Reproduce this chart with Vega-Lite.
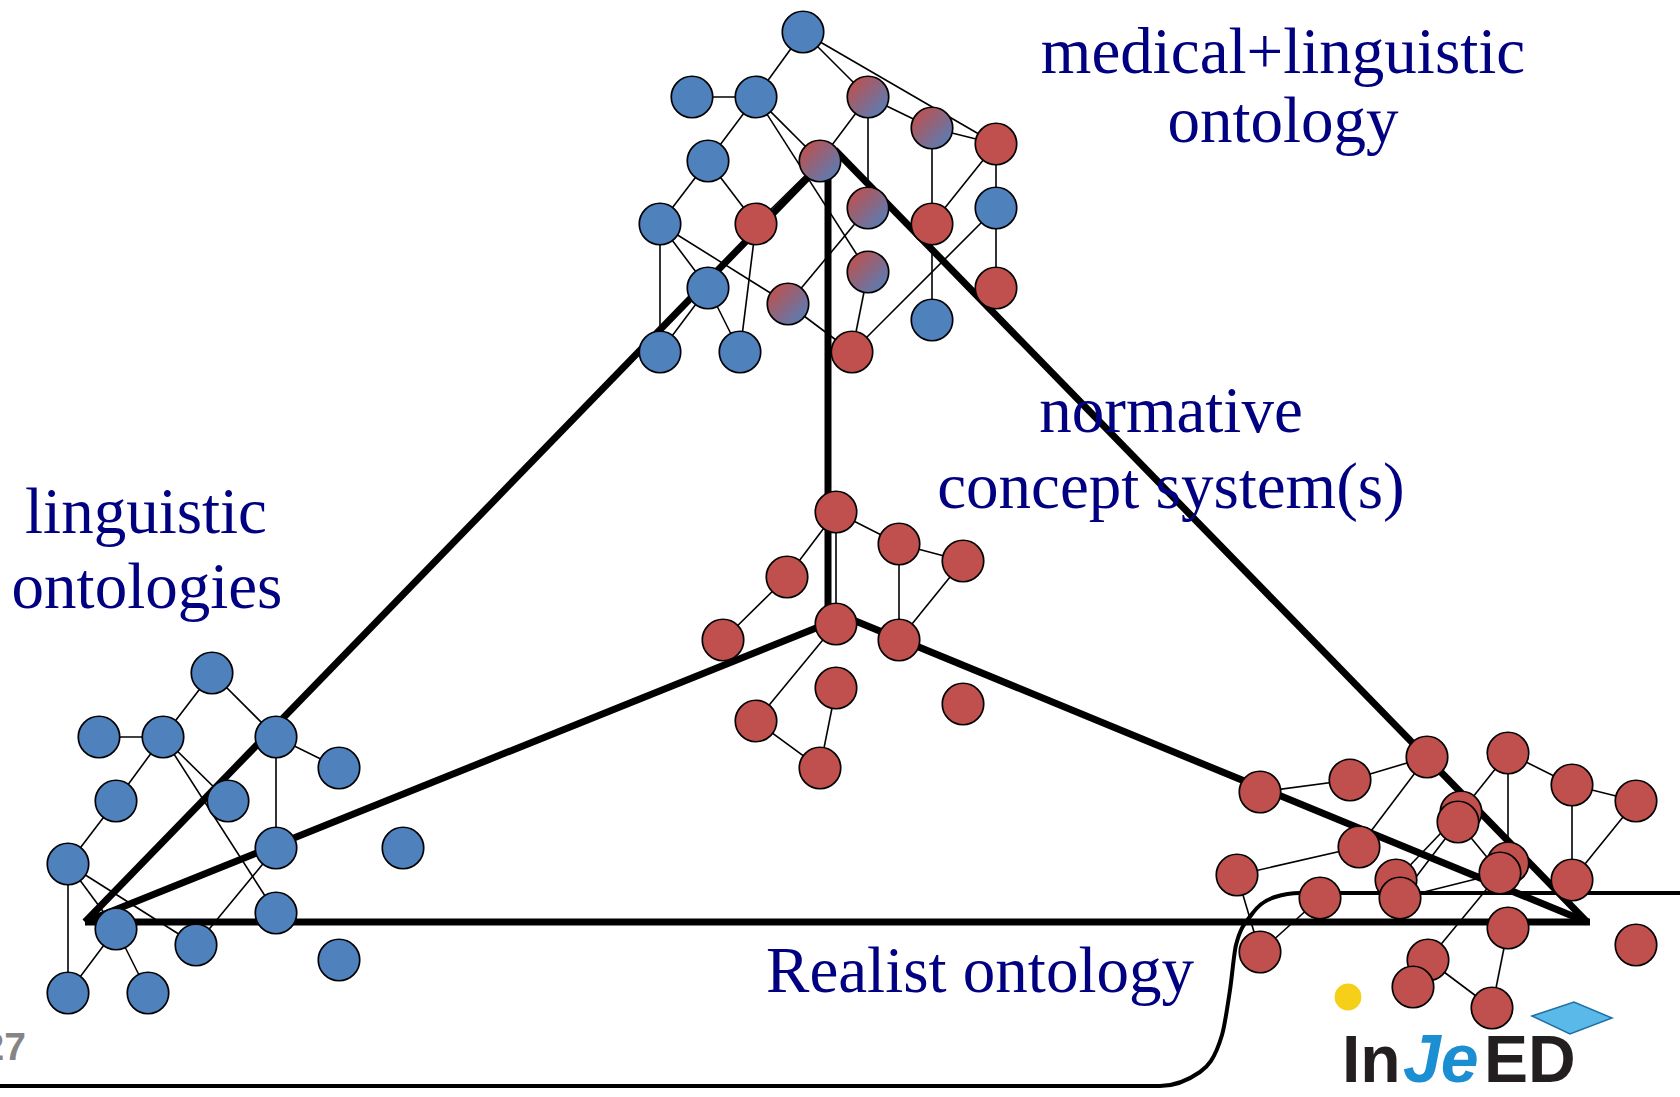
{
  "$schema": "https://vega.github.io/schema/vega-lite/v6.json",
  "width": 1680,
  "height": 1097,
  "autosize": "none",
  "padding": 0,
  "background": "white",
  "config": {"view": {"stroke": null}},
  "datasets": {
    "nodes": [
      {"id": "t1", "x": 803, "y": 32, "type": "linguistic"},
      {"id": "t2", "x": 692, "y": 97, "type": "linguistic"},
      {"id": "t3", "x": 756, "y": 97, "type": "linguistic"},
      {"id": "t4", "x": 868, "y": 97, "type": "mixed"},
      {"id": "t5", "x": 932, "y": 128, "type": "mixed"},
      {"id": "t6", "x": 996, "y": 144, "type": "normative"},
      {"id": "t7", "x": 708, "y": 161, "type": "linguistic"},
      {"id": "t8", "x": 820, "y": 161, "type": "mixed"},
      {"id": "t9", "x": 660, "y": 224, "type": "linguistic"},
      {"id": "t10", "x": 756, "y": 224, "type": "normative"},
      {"id": "t11", "x": 868, "y": 208, "type": "mixed"},
      {"id": "t12", "x": 932, "y": 224, "type": "normative"},
      {"id": "t13", "x": 996, "y": 208, "type": "linguistic"},
      {"id": "t14", "x": 708, "y": 288, "type": "linguistic"},
      {"id": "t15", "x": 868, "y": 272, "type": "mixed"},
      {"id": "t16", "x": 996, "y": 288, "type": "normative"},
      {"id": "t17", "x": 788, "y": 304, "type": "mixed"},
      {"id": "t18", "x": 932, "y": 320, "type": "linguistic"},
      {"id": "t19", "x": 660, "y": 352, "type": "linguistic"},
      {"id": "t20", "x": 740, "y": 352, "type": "linguistic"},
      {"id": "t21", "x": 852, "y": 352, "type": "normative"},
      {"id": "l1", "x": 212, "y": 673, "type": "linguistic"},
      {"id": "l2", "x": 99, "y": 737, "type": "linguistic"},
      {"id": "l3", "x": 163, "y": 737, "type": "linguistic"},
      {"id": "l4", "x": 276, "y": 737, "type": "linguistic"},
      {"id": "l5", "x": 339, "y": 768, "type": "linguistic"},
      {"id": "l6", "x": 116, "y": 801, "type": "linguistic"},
      {"id": "l7", "x": 228, "y": 801, "type": "linguistic"},
      {"id": "l8", "x": 68, "y": 864, "type": "linguistic"},
      {"id": "l9", "x": 276, "y": 848, "type": "linguistic"},
      {"id": "l10", "x": 403, "y": 848, "type": "linguistic"},
      {"id": "l11", "x": 116, "y": 929, "type": "linguistic"},
      {"id": "l12", "x": 196, "y": 945, "type": "linguistic"},
      {"id": "l13", "x": 276, "y": 913, "type": "linguistic"},
      {"id": "l14", "x": 339, "y": 960, "type": "linguistic"},
      {"id": "l15", "x": 68, "y": 993, "type": "linguistic"},
      {"id": "l16", "x": 148, "y": 993, "type": "linguistic"},
      {"id": "c1", "x": 836, "y": 512, "type": "normative"},
      {"id": "c2", "x": 899, "y": 544, "type": "normative"},
      {"id": "c3", "x": 963, "y": 561, "type": "normative"},
      {"id": "c4", "x": 787, "y": 577, "type": "normative"},
      {"id": "c5", "x": 836, "y": 624, "type": "normative"},
      {"id": "c6", "x": 723, "y": 640, "type": "normative"},
      {"id": "c7", "x": 899, "y": 640, "type": "normative"},
      {"id": "c8", "x": 836, "y": 688, "type": "normative"},
      {"id": "c9", "x": 963, "y": 704, "type": "normative"},
      {"id": "c10", "x": 756, "y": 721, "type": "normative"},
      {"id": "c11", "x": 820, "y": 768, "type": "normative"},
      {"id": "r7", "x": 1461, "y": 812, "type": "normative"},
      {"id": "r11", "x": 1396, "y": 880, "type": "normative"},
      {"id": "r12", "x": 1508, "y": 863, "type": "normative"},
      {"id": "r20", "x": 1428, "y": 960, "type": "normative"},
      {"id": "r1", "x": 1427, "y": 757, "type": "normative"},
      {"id": "r2", "x": 1508, "y": 753, "type": "normative"},
      {"id": "r3", "x": 1350, "y": 780, "type": "normative"},
      {"id": "r4", "x": 1260, "y": 792, "type": "normative"},
      {"id": "r5", "x": 1572, "y": 785, "type": "normative"},
      {"id": "r6", "x": 1636, "y": 801, "type": "normative"},
      {"id": "r8", "x": 1458, "y": 822, "type": "normative"},
      {"id": "r9", "x": 1359, "y": 847, "type": "normative"},
      {"id": "r10", "x": 1237, "y": 875, "type": "normative"},
      {"id": "r13", "x": 1500, "y": 873, "type": "normative"},
      {"id": "r14", "x": 1572, "y": 880, "type": "normative"},
      {"id": "r15", "x": 1320, "y": 898, "type": "normative"},
      {"id": "r16", "x": 1400, "y": 898, "type": "normative"},
      {"id": "r17", "x": 1508, "y": 928, "type": "normative"},
      {"id": "r18", "x": 1636, "y": 945, "type": "normative"},
      {"id": "r19", "x": 1260, "y": 952, "type": "normative"},
      {"id": "r21", "x": 1413, "y": 987, "type": "normative"},
      {"id": "r22", "x": 1492, "y": 1008, "type": "normative"}
    ],
    "edges": [
      {"s": "t1", "t": "t3"}, {"s": "t1", "t": "t4"}, {"s": "t1", "t": "t6"}, {"s": "t2", "t": "t3"},
      {"s": "t3", "t": "t7"}, {"s": "t3", "t": "t8"}, {"s": "t3", "t": "t15"}, {"s": "t4", "t": "t8"},
      {"s": "t4", "t": "t11"}, {"s": "t4", "t": "t5"}, {"s": "t5", "t": "t6"}, {"s": "t5", "t": "t12"},
      {"s": "t6", "t": "t12"}, {"s": "t6", "t": "t13"}, {"s": "t13", "t": "t16"}, {"s": "t13", "t": "t21"},
      {"s": "t12", "t": "t18"}, {"s": "t7", "t": "t9"}, {"s": "t7", "t": "t10"}, {"s": "t9", "t": "t14"},
      {"s": "t9", "t": "t19"}, {"s": "t9", "t": "t17"}, {"s": "t14", "t": "t20"}, {"s": "t14", "t": "t19"},
      {"s": "t10", "t": "t20"}, {"s": "t11", "t": "t17"}, {"s": "t15", "t": "t21"}, {"s": "t17", "t": "t21"},
      {"s": "t8", "t": "t10"},
      {"s": "l1", "t": "l3"}, {"s": "l1", "t": "l4"}, {"s": "l2", "t": "l3"}, {"s": "l3", "t": "l6"},
      {"s": "l3", "t": "l7"}, {"s": "l3", "t": "l13"}, {"s": "l4", "t": "l5"}, {"s": "l4", "t": "l9"},
      {"s": "l6", "t": "l8"}, {"s": "l8", "t": "l11"}, {"s": "l8", "t": "l15"}, {"s": "l8", "t": "l12"},
      {"s": "l9", "t": "l12"}, {"s": "l11", "t": "l15"}, {"s": "l11", "t": "l16"},
      {"s": "c1", "t": "c2"}, {"s": "c1", "t": "c4"}, {"s": "c1", "t": "c5"}, {"s": "c2", "t": "c3"},
      {"s": "c2", "t": "c7"}, {"s": "c3", "t": "c7"}, {"s": "c4", "t": "c6"}, {"s": "c5", "t": "c10"},
      {"s": "c8", "t": "c11"}, {"s": "c10", "t": "c11"},
      {"s": "r4", "t": "r3"}, {"s": "r3", "t": "r1"}, {"s": "r1", "t": "r9"}, {"s": "r2", "t": "r7"},
      {"s": "r2", "t": "r12"}, {"s": "r2", "t": "r5"}, {"s": "r5", "t": "r6"}, {"s": "r5", "t": "r14"},
      {"s": "r6", "t": "r14"}, {"s": "r10", "t": "r9"}, {"s": "r10", "t": "r19"}, {"s": "r19", "t": "r15"},
      {"s": "r16", "t": "r8"}, {"s": "r11", "t": "r7"}, {"s": "r8", "t": "r13"}, {"s": "r16", "t": "r13"},
      {"s": "r13", "t": "r20"}, {"s": "r17", "t": "r22"}, {"s": "r20", "t": "r22"}
    ],
    "frame": [
      {"x": 85, "y": 922, "x2": 820, "y2": 165},
      {"x": 828, "y": 165, "x2": 828, "y2": 624},
      {"x": 835, "y": 150, "x2": 1587, "y2": 922},
      {"x": 85, "y": 922, "x2": 836, "y2": 620},
      {"x": 836, "y": 613, "x2": 1587, "y2": 922},
      {"x": 85, "y": 922, "x2": 1590, "y2": 922}
    ],
    "boundary": [
      {"i": 0, "x": 0, "y": 1086},
      {"i": 1, "x": 1160, "y": 1086},
      {"i": 2, "x": 1200, "y": 1072},
      {"i": 3, "x": 1222, "y": 1035},
      {"i": 4, "x": 1230, "y": 990},
      {"i": 5, "x": 1236, "y": 945},
      {"i": 6, "x": 1252, "y": 914},
      {"i": 7, "x": 1275, "y": 897},
      {"i": 8, "x": 1300, "y": 893},
      {"i": 9, "x": 1680, "y": 893}
    ],
    "labels": [
      {"t": "medical+linguistic", "x": 1283, "y": 73},
      {"t": "ontology", "x": 1283, "y": 142},
      {"t": "normative", "x": 1171, "y": 432},
      {"t": "concept system(s)", "x": 1171, "y": 508},
      {"t": "linguistic", "x": 146, "y": 533},
      {"t": "ontologies", "x": 147, "y": 608},
      {"t": "Realist ontology", "x": 980, "y": 992}
    ],
    "pagenum": [{"t": "27", "x": 26, "y": 1060}],
    "logo": [
      {"part": "In", "x": 1342, "y": 1082},
      {"part": "Je", "x": 1403, "y": 1082},
      {"part": "ED", "x": 1484, "y": 1082},
      {"part": "sun", "x": 1348, "y": 997},
      {"part": "cap", "x": 1572, "y": 1022}
    ]
  },
  "encoding": {
    "x": {"field": "x", "type": "quantitative", "scale": {"domain": [0, 1680], "nice": false, "zero": false}, "axis": null},
    "y": {"field": "y", "type": "quantitative", "scale": {"domain": [0, 1097], "reverse": true, "nice": false, "zero": false}, "axis": null}
  },
  "layer": [
    {
      "data": {"name": "boundary"},
      "mark": {"type": "line", "color": "black", "strokeWidth": 4, "interpolate": "monotone"},
      "encoding": {"order": {"field": "i", "type": "quantitative"}}
    },
    {
      "data": {"name": "logo"},
      "transform": [{"filter": "datum.part == 'sun'"}],
      "mark": {"type": "circle", "color": "#F6D018", "opacity": 1, "size": 720}
    },
    {
      "data": {"name": "logo"},
      "transform": [{"filter": "datum.part == 'cap'"}],
      "mark": {"type": "point", "shape": "M-1,-0.15L0.05,-0.5L1,-0.1L-0.05,0.3Z", "filled": true, "color": "#5BB9E9", "stroke": "#1F6FA3", "strokeWidth": 1.5, "opacity": 1, "size": 6400}
    },
    {
      "data": {"name": "logo"},
      "transform": [{"filter": "datum.part == 'In' || datum.part == 'ED'"}],
      "mark": {"type": "text", "font": "Liberation Sans", "fontWeight": "bold", "fontSize": 66, "color": "#231F20", "align": "left", "baseline": "alphabetic"},
      "encoding": {"text": {"field": "part"}}
    },
    {
      "data": {"name": "logo"},
      "transform": [{"filter": "datum.part == 'Je'"}],
      "mark": {"type": "text", "font": "Liberation Sans", "fontWeight": "bold", "fontStyle": "italic", "fontSize": 68, "color": "#1C8FD2", "align": "left", "baseline": "alphabetic"},
      "encoding": {"text": {"field": "part"}}
    },
    {
      "data": {"name": "edges"},
      "transform": [
        {"lookup": "s", "from": {"data": {"name": "nodes"}, "key": "id", "fields": ["x", "y"]}, "as": ["x", "y"]},
        {"lookup": "t", "from": {"data": {"name": "nodes"}, "key": "id", "fields": ["x", "y"]}, "as": ["x2", "y2"]}
      ],
      "mark": {"type": "rule", "color": "black", "strokeWidth": 1.6},
      "encoding": {"x2": {"field": "x2"}, "y2": {"field": "y2"}}
    },
    {
      "data": {"name": "frame"},
      "mark": {"type": "rule", "color": "black", "strokeWidth": 7},
      "encoding": {"x2": {"field": "x2"}, "y2": {"field": "y2"}}
    },
    {
      "data": {"name": "nodes"},
      "transform": [{"filter": "datum.type != 'mixed'"}],
      "mark": {"type": "circle", "size": 1720, "opacity": 1, "stroke": "black", "strokeWidth": 1.7},
      "encoding": {
        "color": {"field": "type", "type": "nominal", "scale": {"domain": ["linguistic", "normative"], "range": ["#4F81BD", "#C0504D"]}, "legend": null}
      }
    },
    {
      "data": {"name": "nodes"},
      "transform": [{"filter": "datum.type == 'mixed'"}],
      "mark": {
        "type": "circle", "size": 1720, "opacity": 1, "stroke": "black", "strokeWidth": 1.7,
        "fill": {"gradient": "linear", "x1": 0.1, "y1": 0.1, "x2": 0.95, "y2": 0.95,
          "stops": [{"offset": 0, "color": "#C0504D"}, {"offset": 1, "color": "#4F81BD"}]}
      }
    },
    {
      "data": {"name": "labels"},
      "mark": {"type": "text", "font": "Liberation Serif", "fontSize": 65, "color": "#000080", "align": "center", "baseline": "alphabetic"},
      "encoding": {"text": {"field": "t"}}
    },
    {
      "data": {"name": "pagenum"},
      "mark": {"type": "text", "font": "Liberation Sans", "fontWeight": "bold", "fontSize": 39, "color": "#858585", "align": "right", "baseline": "alphabetic"},
      "encoding": {"text": {"field": "t"}}
    }
  ]
}
